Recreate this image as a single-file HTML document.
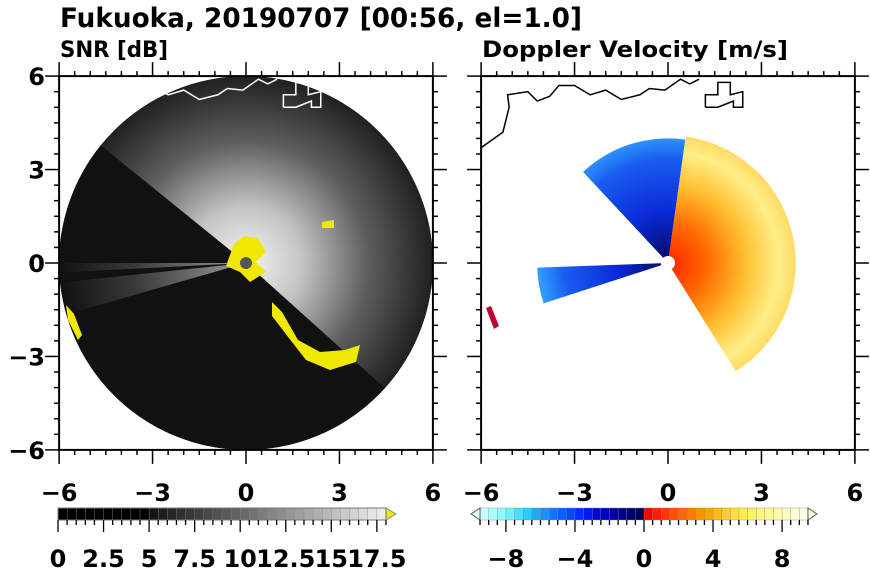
<!DOCTYPE html>
<html><head><meta charset="utf-8"><style>
body{margin:0;background:#fff;}
svg{display:block;font-family:"DejaVu Sans","Liberation Sans",sans-serif;font-weight:bold;}
</style></head><body>
<svg id="fig" width="870" height="570" viewBox="0 0 870 570" xmlns="http://www.w3.org/2000/svg">
<defs>
  <radialGradient id="snrBright" gradientUnits="userSpaceOnUse" cx="246" cy="263" r="187">
    <stop offset="0" stop-color="#f4f4f4"/><stop offset="0.3" stop-color="#c4c4c4"/>
    <stop offset="0.65" stop-color="#5e5e5e"/><stop offset="1" stop-color="#202020"/>
  </radialGradient>
  <radialGradient id="snrStreak" gradientUnits="userSpaceOnUse" cx="246" cy="263" r="187">
    <stop offset="0" stop-color="#9a9a9a"/><stop offset="0.6" stop-color="#3a3a3a"/><stop offset="1" stop-color="#111"/>
  </radialGradient>
  <radialGradient id="velPos" gradientUnits="userSpaceOnUse" cx="668" cy="263" r="130">
    <stop offset="0" stop-color="#ff2200"/><stop offset="0.3" stop-color="#ff6a00"/>
    <stop offset="0.6" stop-color="#ffc030"/><stop offset="0.85" stop-color="#ffee88"/><stop offset="1" stop-color="#ffd860"/>
  </radialGradient>
  <radialGradient id="velNeg" gradientUnits="userSpaceOnUse" cx="668" cy="263" r="130">
    <stop offset="0" stop-color="#000a60"/><stop offset="0.4" stop-color="#0a2ad8"/>
    <stop offset="0.8" stop-color="#1a5cf0"/><stop offset="1" stop-color="#30a0ff"/>
  </radialGradient>
  <clipPath id="clipL"><rect x="59" y="75" width="374" height="375"/></clipPath>
  <clipPath id="clipR"><rect x="482" y="75" width="373" height="375"/></clipPath>
</defs>
<text x="60" y="27" font-size="27" textLength="522" lengthAdjust="spacingAndGlyphs">Fukuoka, 20190707 [00:56, el=1.0]</text>
<text x="60" y="57" font-size="22" textLength="108" lengthAdjust="spacingAndGlyphs">SNR [dB]</text>
<text x="482" y="57" font-size="22" textLength="306" lengthAdjust="spacingAndGlyphs">Doppler Velocity [m/s]</text>
<g id="plotL" clip-path="url(#clipL)"></g>
<g id="plotR" clip-path="url(#clipR)"></g>
<g id="axes"></g>
<g id="cbars"></g>
</svg>
<script>
// ---- data ----
const axisTicks = [-6, -3, 0, 3, 6];
const axisTickLabels = ["\u22126", "\u22123", "0", "3", "6"];
// SNR sectors (degrees, ccw from east), radius in km, level
const snrStart = [141, 180, 183, 186, 196, -42];
const snrEnd   = [180, 183, 186, 196, 318, 141];
const snrLevel = [1, 9, 1, 7, 1, 16];
const snrRange = [6, 6, 6, 6, 6, 6];
// Velocity sectors
const velStart = [82, 182, -58];
const velEnd   = [133, 198, 82];
const velRange = [4.0, 4.2, 4.1];
const velSign  = [-1, -1, 1];
// Colorbar
const snrCbTicks = [0, 2.5, 5, 7.5, 10, 12.5, 15, 17.5];
const snrCbLabels = ["0", "2.5", "5", "7.5", "10", "12.5", "15", "17.5"];
const velCbTicks = [-8, -4, 0, 4, 8];
const velCbLabels = ["\u22128", "\u22124", "0", "4", "8"];
const velColors = ["#c8ffff","#a8ffff","#88ffff","#68f4ff","#48e0ff","#30c8ff","#20a8ff","#1890ff","#1078ff","#0860ff","#0848ff","#0030ff","#0018f0","#0008d8","#0000c0","#0000a0","#000088","#000070","#000058",
"#ff0000","#ff2000","#ff3800","#ff5000","#ff6800","#ff7c00","#ff9000","#ffa400","#ffb820","#ffcc30","#ffdc40","#ffea50","#fff460","#fff878","#fffa90","#fffca8","#fffdc0","#fffed4","#ffffe4"];
// coastline (km)
const coastX = [-6,-5.3,-5.1,-5.15,-4.5,-4.2,-3.8,-3.5,-3.0,-2.5,-2.0,-1.5,-0.9,-0.6,-0.1,0.4,0.7,1.0];
const coastY = [3.7,4.2,5.0,5.4,5.5,5.2,5.35,5.7,5.7,5.4,5.55,5.25,5.4,5.6,5.55,5.9,5.75,5.9];

const NS = "http://www.w3.org/2000/svg";
const K = 31.15;
const cxL = 246, cxR = 668, cy = 263;
function sx(c, v){ return c + v*K; }
function sy(v){ return cy - v*K; }
function mk(tag, attrs, parent){ const e=document.createElementNS(NS,tag); for(const k in attrs) e.setAttribute(k,attrs[k]); parent.appendChild(e); return e; }
function wedge(c, a0, a1, r){
  const R=r*K, t0=a0*Math.PI/180, t1=a1*Math.PI/180;
  const x0=c+R*Math.cos(t0), y0=cy-R*Math.sin(t0), x1=c+R*Math.cos(t1), y1=cy-R*Math.sin(t1);
  const large = ((a1-a0+360)%360)>180?1:0;
  return `M${c},${cy} L${x0},${y0} A${R},${R} 0 ${large} 0 ${x1},${y1} Z`;
}
const pL = document.getElementById('plotL'), pR = document.getElementById('plotR');
const bg = mk('circle',{cx:cxL,cy:cy,r:6*K,fill:'#111'},pL);


for(let i=0;i<snrStart.length;i++){
  let fill = snrLevel[i] >= 12 ? 'url(#snrBright)' : (snrLevel[i] >= 5 ? 'url(#snrStreak)' : '#111');
  const p = mk('path',{d:wedge(cxL,snrStart[i],snrEnd[i],snrRange[i]),fill:fill},pL);
  
  
}
// yellow clutter
const yl = [[[234,244],[244,236],[258,238],[266,252],[256,262],[266,272],[250,282],[240,272],[226,266]],
 [[272,302],[282,312],[298,340],[320,352],[345,350],[360,345],[356,362],[330,370],[306,360],[292,342],[272,316]],
 [[66,305],[74,314],[82,335],[78,340],[68,320]],[[322,222],[334,220],[334,228],[322,228]]];
yl.forEach(pts=>{ const p=mk('polygon',{points:pts.map(q=>q.join(',')).join(' '),fill:'#f0e800'},pL);
    });
const hub=mk('circle',{cx:cxL,cy:cy,r:6,fill:'#555'},pL);
 
for(let i=0;i<velStart.length;i++){
  const p = mk('path',{d:wedge(cxR,velStart[i],velEnd[i],velRange[i]),fill:velSign[i]<0?'url(#velNeg)':'url(#velPos)'},pR);
  
  
}
const hubR=mk('circle',{cx:cxR,cy:cy,r:7,fill:'#fff'},pR);
 
const rimR=mk('polygon',{points:'486,308 491,306 499,326 494,329',fill:'#c00030'},pR);
 
// coastline
[[cxL,'#fff',pL],[cxR,'#000',pR]].forEach(([c,col,par])=>{
  const pts = coastX.map((x,i)=>sx(c,x)+','+sy(coastY[i])).join(' ');
  const l = mk('polyline',{points:pts,fill:'none',stroke:col,'stroke-width':1.5},par);
   
  const b = mk('polyline',{points:[[1.2,5.0],[1.2,5.4],[1.6,5.4],[1.6,5.8],[2.0,5.8],[2.0,5.4],[2.4,5.5],[2.4,5.0],[2.1,5.0],[2.1,5.2],[1.6,5.0],[1.2,5.0]].map(q=>sx(c,q[0])+','+sy(q[1])).join(' '),fill:'none',stroke:col,'stroke-width':1.5},par);
   
});
// axes
const ax = document.getElementById('axes');
[[cxL,true],[cxR,false]].forEach(([c,ylab])=>{
  const x0=sx(c,-6), x1=sx(c,6), y0=sy(6), y1=sy(-6);
  const fr=mk('rect',{x:x0,y:y0,width:x1-x0,height:y1-y0,fill:'none',stroke:'#000','stroke-width':2},ax);
   
  for(let v=-6; v<=6.001; v+=0.5){
    const major = Math.abs(v%3)<1e-6, L = major?14:5;
    mk('line',{x1:sx(c,v),x2:sx(c,v),y1:y1,y2:y1+L,stroke:'#000','stroke-width':1.5},ax);
    mk('line',{x1:sx(c,v),x2:sx(c,v),y1:y0,y2:y0-L,stroke:'#000','stroke-width':1.5},ax);
    mk('line',{x1:x0,x2:x0-L,y1:sy(v),y2:sy(v),stroke:'#000','stroke-width':1.5},ax);
    mk('line',{x1:x1,x2:x1+L,y1:sy(v),y2:sy(v),stroke:'#000','stroke-width':1.5},ax);
  }
  axisTicks.forEach((v,i)=>{
    const t=mk('text',{x:sx(c,v),y:501,'font-size':24,'text-anchor':'middle'},ax); t.textContent=axisTickLabels[i];
     
    if(ylab){ const u=mk('text',{x:45,y:sy(v)+9,'font-size':24,'text-anchor':'end'},ax); u.textContent=axisTickLabels[i];
        }
  });
});
// colorbars
const cb = document.getElementById('cbars');
const cbY=508, cbH=12;
// SNR
const sA=58, sK=18.22;
for(let i=0;i<36;i++){
  const v=i*0.5; const g = v<5?0:Math.round(20+(v-5)/13*225);
  const r=mk('rect',{x:sA+v*sK,y:cbY,width:0.5*sK+0.3,height:cbH,fill:`rgb(${g},${g},${g})`,stroke:'#888','stroke-width':0.4},cb);
   
}
const tri=mk('polygon',{points:`${sA+18*sK},${cbY} ${sA+18*sK+10},${cbY+6} ${sA+18*sK},${cbY+12}`,fill:'#f0e800',stroke:'#888'},cb);
 
mk('rect',{x:sA,y:cbY,width:18*sK,height:cbH,fill:'none',stroke:'#777','stroke-width':1},cb);
for(let v=0; v<=18.001; v+=0.5){ const major=Math.abs(v%2.5)<1e-6;
  mk('line',{x1:sA+v*sK,x2:sA+v*sK,y1:cbY+cbH,y2:cbY+cbH+(major?12:5),stroke:'#000','stroke-width':1.3},cb); }
snrCbTicks.forEach((v,i)=>{ const t=mk('text',{x:sA+v*sK,y:567,'font-size':24,'text-anchor':'middle'},cb); t.textContent=snrCbLabels[i];
    });
// velocity
const vZ=644, vK=17.26, vA=vZ-9.5*vK;
velColors.forEach((col,i)=>{
  const r=mk('rect',{x:vA+i*0.5*vK,y:cbY,width:0.5*vK+0.3,height:cbH,fill:col,stroke:'#888','stroke-width':0.4},cb);
   
});
const tl=mk('polygon',{points:`${vA},${cbY} ${vA-9},${cbY+6} ${vA},${cbY+12}`,fill:'#e0ffff',stroke:'#555'},cb);
 
const vB=vZ+9.5*vK;
const tr=mk('polygon',{points:`${vB},${cbY} ${vB+9},${cbY+6} ${vB},${cbY+12}`,fill:'#fffff0',stroke:'#555'},cb);
 
for(let v=-9.5; v<=9.501; v+=0.5){ const major=Math.abs(v%4)<1e-6;
  mk('line',{x1:vZ+v*vK,x2:vZ+v*vK,y1:cbY+cbH,y2:cbY+cbH+(major?12:5),stroke:'#000','stroke-width':1.3},cb); }
velCbTicks.forEach((v,i)=>{ const t=mk('text',{x:vZ+v*vK,y:567,'font-size':24,'text-anchor':'middle'},cb); t.textContent=velCbLabels[i];
    });
</script>
</body></html>
